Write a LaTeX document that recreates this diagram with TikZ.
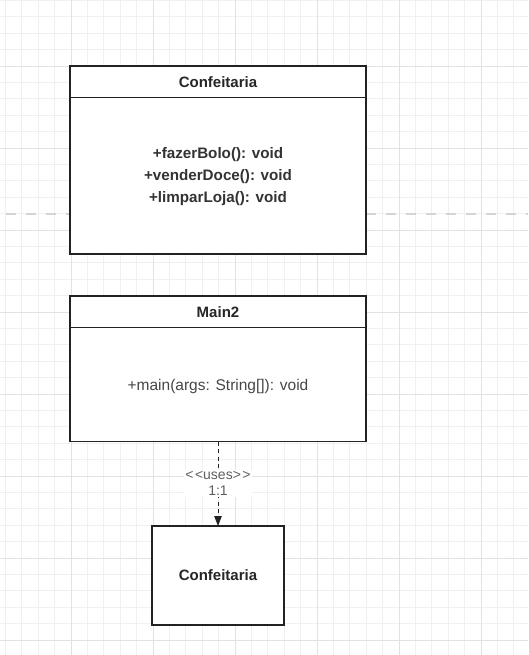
\documentclass[tikz,border=0pt]{standalone}
\usepackage{fontspec}
\setmainfont{Liberation Sans}
\usetikzlibrary{arrows.meta}
\definecolor{gridminor}{HTML}{F0F0F0}
\definecolor{gridmajor}{HTML}{E2E2E2}
\definecolor{strokec}{HTML}{222222}
\definecolor{sepc}{HTML}{D4D4D4}
\definecolor{txtdark}{HTML}{262626}
\definecolor{txtmeth}{HTML}{333333}
\definecolor{txtmid}{HTML}{474747}
\definecolor{txtlabel}{HTML}{5E5E5E}
\begin{document}
\begin{tikzpicture}[x=1pt,y=-1pt,
  classbox/.style={draw=strokec, line width=1.3pt, fill=white, rectangle, inner sep=0pt, outer sep=0pt},
  divider/.style={draw=strokec, line width=1.3pt},
  headtext/.style={font=\fontsize{15}{18}\selectfont\bfseries, text=txtdark},
  methtext/.style={font=\fontsize{15.2}{22}\selectfont\bfseries, text=txtmeth, align=center},
  plaintext/.style={font=\fontsize{15.5}{18}\selectfont, text=txtmid},
  uselabel/.style={font=\fontsize{14}{16}\selectfont, text=txtlabel, fill=white, align=center, inner sep=1.5pt},
  depline/.style={draw=strokec, line width=0.9pt, dash pattern=on 4pt off 3.5pt, -{Triangle[length=10pt,width=7.5pt]}},
  gridmin/.style={draw=gridminor, line width=0.8pt},
  gridmaj/.style={draw=gridmajor, line width=0.9pt},
  sepline/.style={draw=sepc, line width=2pt, dash pattern=on 10pt off 10pt, dash phase=14pt}
]
\useasboundingbox (0,0) rectangle (528,655);
\fill[white] (0,0) rectangle (528,655);
% grid
\foreach \i in {0,...,32} {\draw[gridmin] ({5.4+16.4*\i},0) -- ++(0,655);}
\foreach \i in {0,...,39} {\draw[gridmin] (0,{0.4+16.4*\i}) -- ++(528,0);}
\foreach \i in {0,...,5} {\draw[gridmaj] ({71+82*\i},0) -- ++(0,655);}
\foreach \i in {0,...,7} {\draw[gridmaj] (0,{66+82*\i}) -- ++(528,0);}
% dashed separator
\coordinate (sepL) at (0,213.7);
\coordinate (sepR) at (528,213.7);
\draw[sepline] (sepL) -- (sepR);
% class Confeitaria
\node[classbox, minimum width=296pt, minimum height=188pt] (conf) at (218,160) {};
\draw[divider] ([yshift=-31.7pt]conf.north west) -- ([yshift=-31.7pt]conf.north east);
\node[headtext] (confh) at ([yshift=-16pt]conf.north) {Confeitaria};
\node[methtext] (confm) at (218,177) {+fazerBolo(): void\\+venderDoce(): void\\+limparLoja(): void};
% class Main2
\node[classbox, minimum width=296pt, minimum height=145.5pt] (main) at (218,368.75) {};
\draw[divider] ([yshift=-31.5pt]main.north west) -- ([yshift=-31.5pt]main.north east);
\node[headtext] (mainh) at ([yshift=-16pt]main.north) {Main2};
\node[plaintext] (mainm) at (218,386) {+main(args: String[]): void};
% Confeitaria box
\node[classbox, minimum width=132pt, minimum height=99pt, headtext] (conf2) at (218,575.5) {Confeitaria};
% dependency
\draw[depline] (main.south) -- node[uselabel] (usel) {<\kern1.5pt<uses>\kern1.5pt>\\1:1} (conf2.north);
\end{tikzpicture}
\end{document}
